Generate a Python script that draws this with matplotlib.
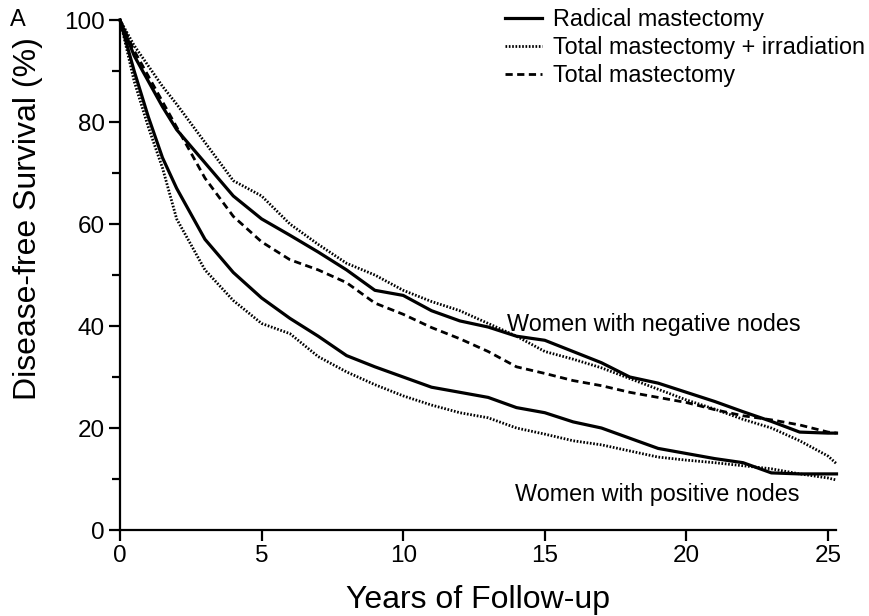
import matplotlib
matplotlib.use("Agg")
from matplotlib import pyplot as plt

plt.rcParams['font.family'] = ['Liberation Sans', 'DejaVu Sans']

# years of follow-up (shared by all curves)
years = [0, 0.5, 1, 1.5, 2, 3, 4, 5, 6, 7, 8, 9, 10, 11, 12, 13, 14,
         15, 16, 17, 18, 19, 20, 21, 22, 23, 24, 25, 25.3]

# women with negative nodes
neg_radical = [100, 93, 88, 83, 78.5, 72, 65.5, 61, 57.8, 54.5, 51, 47, 46, 43,
               41, 39.8, 38, 37.2, 35, 32.8, 30, 28.8, 27, 25.2, 23.2, 21.3, 19.2, 19, 19]
neg_tm_irr = [100, 95, 91, 87, 83.5, 76, 68.5, 65.5, 60, 56, 52.3, 50, 47, 44.8,
              43, 40.5, 38, 35, 33.5, 31.8, 29.7, 27.6, 25.5, 23.7, 21.7, 20, 17.5, 14.5, 13]
neg_tm = [100, 94, 89, 84, 79, 69, 61.5, 56.5, 53, 51, 48.5, 44.5, 42.3, 39.7,
          37.5, 35, 32, 30.7, 29.3, 28.3, 27, 26, 25, 23.6, 22.4, 21.6, 20.6, 19.2, 19]

# women with positive nodes
pos_radical = [100, 90, 81, 73, 67, 57, 50.5, 45.5, 41.5, 38, 34.2, 32, 30, 28,
               27, 26, 24, 23, 21.2, 20, 18, 16, 15, 14, 13.2, 11.2, 11, 11, 11]
pos_tm_irr = [100, 88, 79, 71, 61, 51, 45, 40.5, 38.5, 34, 31, 28.5, 26.3, 24.5,
              23, 22, 20, 18.8, 17.5, 16.7, 15.5, 14.3, 13.7, 13.2, 12.6, 12, 11, 10.2, 9.8]

labels = ['Radical mastectomy', 'Total mastectomy + irradiation', 'Total mastectomy']

fig = plt.figure(figsize=(8.69, 6.16), dpi=100)
ax = fig.add_axes([0.1381, 0.1396, 0.8245, 0.8279])

solid = dict(color='black', lw=2.3, linestyle='-')
dotted = dict(color='black', lw=2.0, linestyle=(0, (0.6, 0.6)))
dashed = dict(color='black', lw=2.0, linestyle=(0, (2.6, 1.6)))

l1, = ax.plot(years, neg_radical, clip_on=False, **solid)
l2, = ax.plot(years, neg_tm_irr, clip_on=False, **dotted)
l3, = ax.plot(years, neg_tm, clip_on=False, **dashed)
ax.plot(years, pos_radical, clip_on=False, **solid)
ax.plot(years, pos_tm_irr, clip_on=False, **dotted)

ax.set_xlim(0, 25.3)
ax.set_ylim(0, 100)
ax.set_xticks([0, 5, 10, 15, 20, 25])
ax.set_yticks([0, 20, 40, 60, 80, 100])
ax.set_yticks([10, 30, 50, 70, 90], minor=True)

for s in ['top', 'right']:
    ax.spines[s].set_visible(False)
for s in ['left', 'bottom']:
    ax.spines[s].set_linewidth(1.6)
ax.tick_params(which='both', width=1.6, labelsize=17.5, direction='out')
ax.tick_params(which='major', length=8, pad=3)
ax.tick_params(which='minor', length=6)

ax.set_xlabel('Years of Follow-up', fontsize=23, labelpad=13)
ax.set_ylabel('Disease-free Survival (%)', fontsize=23)
ax.yaxis.set_label_coords(-0.107, 0.61)

ax.text(13.67, 40.3, 'Women with negative nodes', fontsize=16.8, va='center', ha='left')
ax.text(13.95, 6.9, 'Women with positive nodes', fontsize=16.8, va='center', ha='left')
fig.text(10 / 869, 1 - 20 / 616, 'A', fontsize=17, va='center', ha='left')

ax.legend([l1, l2, l3], labels, loc='upper left', bbox_to_anchor=(505 / 869, 1 - 8 / 616),
          bbox_transform=fig.transFigure, frameon=False, fontsize=16.8,
          handlelength=1.6, handletextpad=0.45, labelspacing=0.22, borderpad=0,
          borderaxespad=0)

fig.savefig('out.png', dpi=100)
